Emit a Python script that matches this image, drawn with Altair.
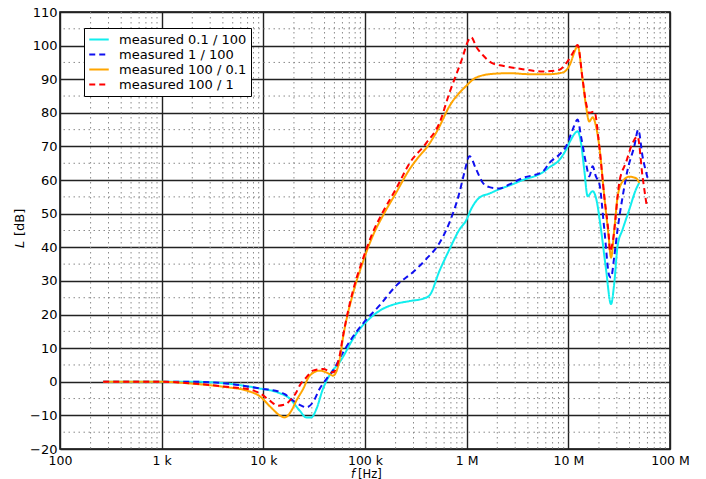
import altair as alt
import pandas as pd

# ---- measured transfer curves: frequency [Hz] and level L [dB] ----
series_names = [
    "measured 0.1 / 100",
    "measured 1 / 100",
    "measured 100 / 0.1",
    "measured 100 / 1",
]
series_colors = ["#11eeee", "#1010f0", "#ffa500", "#ff0000"]
series_dash = [[1, 0], [6, 4], [1, 0], [6, 4]]

cyan_f = [266, 1000, 2040, 4340, 9220, 13940, 18170, 22790, 26500, 29650, 33270,
          38580, 46650, 56230, 76040, 82090, 110900, 149900, 202900, 274200, 370800,
          431200, 540400, 677800, 849700, 988500, 1108000, 1336000, 1674000, 2099000,
          2632000, 3557000, 5595000, 6507000, 8164000, 9489000, 10600000, 12330000,
          13330000, 14350000, 15480000, 17340000, 18710000, 20960000, 23490000,
          26290000, 28330000, 30500000, 34180000, 39730000, 46220000, 49800000]
cyan_L = [0, 0, 0, -0.5, -2.0, -3.2, -5.0, -8.6, -10.6, -10.6, -8.1,
          -2.1, 2.8, 5.8, 12.7, 14.3, 18.8, 21.7, 23.2, 24.0, 24.7,
          25.7, 33.0, 39.4, 45.3, 48.0, 51.4, 54.8, 56.0, 57.3,
          58.4, 60.0, 62.3, 63.8, 66.0, 69.0, 72.0, 74.5,
          71.0, 63.0, 55.2, 56.7, 54.7, 45.3, 33.4,
          23.1, 29.5, 40.4, 45.3, 51.2, 57.2, 59.2]

blue_f = [266, 1000, 2040, 4340, 9220, 14500, 16230, 19590, 23660, 26500, 30770,
          35800, 41690, 48420, 60690, 73280, 98400, 139100, 202900, 295700, 400100,
          540400, 677800, 849700, 950800, 1066000, 1240000, 1440000, 1674000, 2099000,
          2632000, 3557000, 5595000, 6507000, 8164000, 9489000, 11030000, 12330000,
          13330000, 14920000, 16080000, 17340000, 18710000, 20170000, 22600000,
          25290000, 26290000, 28330000, 30500000, 34180000, 38230000, 44490000,
          48730000, 53720000, 60130000]
blue_L = [0, 0, 0, -0.5, -2.0, -3.0, -3.7, -5.6, -7.1, -7.6, -6.1,
          -2.1, 0.8, 3.3, 8.7, 12.7, 17.8, 22.7, 28.6, 32.6, 36.5,
          41.3, 47.4, 56.3, 62.3, 67.1, 63.2, 59.2, 57.9, 57.5,
          58.7, 60.6, 62.5, 65.1, 67.6, 70.0, 75.0, 78.0,
          73.0, 65.0, 61.1, 64.1, 61.0, 59.0, 45.3,
          31.5, 31.0, 37.4, 45.3, 55.0, 63.0, 70.0,
          75.0, 67.0, 60.7]

orange_f = [266, 1000, 2040, 4340, 6820, 9220, 12030, 14500, 16230, 18880, 21130,
            24560, 28560, 35800, 44900, 48420, 56230, 60690, 76040, 95300, 119600,
            149900, 202900, 274200, 343800, 400100, 520400, 677800, 988500, 1240000,
            1805000, 2632000, 4139000, 6507000, 8796000, 10230000, 11890000, 12330000,
            13820000, 14920000, 16080000, 17340000, 18710000, 20170000, 22600000,
            24900000, 26290000, 28330000, 30500000, 34180000, 39730000, 46220000,
            49800000]
orange_L = [0, 0, -0.6, -1.6, -2.6, -4.3, -7.8, -10.0, -10.6, -8.6, -5.6,
            -2.2, 1.8, 3.3, 2.3, 1.8, 6.5, 13.0, 26.2, 35.6, 43.5,
            49.4, 56.3, 63.2, 67.2, 69.5, 75.0, 82.0, 88.0, 90.5,
            91.6, 91.8, 91.5, 91.5, 92.0, 94.0, 99.2, 100.0,
            89.8, 82.0, 77.4, 78.7, 76.0, 70.0, 55.0,
            43.3, 36.9, 45.3, 55.0, 59.6, 61.0, 60.6,
            59.2]

red_f = [266, 1000, 2040, 4340, 7350, 9570, 11560, 13940, 16230, 18880, 21130,
         22790, 26500, 30770, 38580, 48420, 56230, 60690, 76040, 95300, 119600,
         149900, 202900, 274200, 400100, 540400, 677800, 916000, 1025000, 1108000,
         1240000, 1440000, 1805000, 2264000, 3557000, 5595000, 8164000, 9489000,
         11030000, 12330000, 13820000, 14920000, 16080000, 18000000, 20170000,
         22600000, 24900000, 25710000, 27250000, 31700000, 36880000, 42840000,
         47960000, 53720000, 58770000]
red_L = [0, 0, -0.5, -1.5, -2.3, -3.7, -5.6, -7.1, -6.8, -5.1, -3.1,
         -1.1, 1.3, 3.3, 3.8, 2.8, 7.7, 13.5, 27.0, 36.5, 44.5,
         50.5, 57.5, 65.0, 71.0, 77.0, 86.0, 96.7, 101.2, 102.5,
         99.7, 97.2, 94.7, 94.0, 93.0, 92.3, 92.8, 94.7,
         97.7, 100.2, 90.0, 83.0, 80.0, 80.4, 70.0,
         55.0, 44.0, 38.8, 41.4, 59.2, 65.2, 71.0,
         73.0, 61.0, 52.7]

# ---- axis ticks ----
x_tick_values = [1e2, 1e3, 1e4, 1e5, 1e6, 1e7, 1e8]
x_tick_labels = ["100", "1 k", "10 k", "100 k", "1 M", "10 M", "100 M"]
y_tick_values = list(range(-20, 111, 10))
x_minor = [k * 10 ** d for d in range(2, 8) for k in range(2, 10)]
y_minor = list(range(-15, 110, 10))

FONT = "DejaVu Sans"
W, H = 610, 437

rows = []
for name, fs, ls in zip(series_names,
                        [cyan_f, blue_f, orange_f, red_f],
                        [cyan_L, blue_L, orange_L, red_L]):
    for i, (f, l) in enumerate(zip(fs, ls)):
        rows.append({"series": name, "freq": f, "L": l, "i": i})
df = pd.DataFrame(rows)

label_expr = ""
for v, t in zip(x_tick_values, x_tick_labels):
    label_expr += f"datum.value == {v:g} ? '{t}' : "
label_expr += "''"

x_scale = alt.Scale(type="log", domain=[1e2, 1e8])
y_scale = alt.Scale(domain=[-20, 110])

x_axis = alt.Axis(values=x_tick_values, labelExpr=label_expr, title=None,
                  grid=True, gridColor="#222222", gridWidth=1.4,
                  ticks=False, labelPadding=5, labelFlush=False,
                  labelOverlap=False, labelFont=FONT, labelFontSize=12.5,
                  labelColor="black", domain=False)
y_axis = alt.Axis(values=y_tick_values, title=None, grid=True,
                  gridColor="#222222", gridWidth=1.4, ticks=False,
                  labelPadding=3, labelFont=FONT, labelFontSize=13,
                  labelColor="black", domain=False, labelFlush=False)

x_enc = alt.X("freq:Q", scale=x_scale, axis=x_axis)
y_enc = alt.Y("L:Q", scale=y_scale, axis=y_axis)

# dotted minor grid
minor_v = alt.Chart(pd.DataFrame({"freq": x_minor})).mark_rule(
    stroke="#8a8a8a", strokeWidth=1, strokeDash=[1.5, 3.5]
).encode(x=x_enc)

minor_h = alt.Chart(pd.DataFrame({"L": y_minor})).mark_rule(
    stroke="#8a8a8a", strokeWidth=1, strokeDash=[1.5, 3.5]
).encode(y=y_enc)

curves = alt.Chart(df).mark_line(strokeWidth=2, interpolate="monotone", clip=True).encode(
    x=x_enc,
    y=y_enc,
    order="i:Q",
    color=alt.Color("series:N", scale=alt.Scale(domain=series_names, range=series_colors),
                    legend=alt.Legend(orient="none", legendX=24, legendY=16, title=None,
                                      strokeColor="black", fillColor="white",
                                      padding=4, symbolType="stroke", symbolSize=380,
                                      symbolStrokeWidth=2, labelFont=FONT,
                                      labelFontSize=13, labelColor="black",
                                      rowPadding=0, clipHeight=15, labelOffset=9,
                                      cornerRadius=0)),
    strokeDash=alt.StrokeDash("series:N",
                              scale=alt.Scale(domain=series_names, range=series_dash),
                              legend=alt.Legend(orient="none", legendX=24, legendY=16,
                                                title=None)),
)

# axis titles with italic quantity symbols
title_df = pd.DataFrame({"t": [0]})
x_title_sym = alt.Chart(title_df).mark_text(
    text="f", font=FONT, fontSize=11.5, fontStyle="italic", align="left",
    baseline="alphabetic", color="black"
).encode(x=alt.value(291), y=alt.value(H + 28.5))
x_title_unit = alt.Chart(title_df).mark_text(
    text="[Hz]", font=FONT, fontSize=11.5, align="left", baseline="alphabetic",
    color="black"
).encode(x=alt.value(298), y=alt.value(H + 28.5))
y_title_sym = alt.Chart(title_df).mark_text(
    text="L", font=FONT, fontSize=13, fontStyle="italic", align="left",
    baseline="middle", angle=270, color="black"
).encode(x=alt.value(-40), y=alt.value(236))
y_title_unit = alt.Chart(title_df).mark_text(
    text="[dB]", font=FONT, fontSize=13, align="left", baseline="middle",
    angle=270, color="black"
).encode(x=alt.value(-40), y=alt.value(224))

chart = alt.layer(
    minor_v, minor_h, curves, x_title_sym, x_title_unit, y_title_sym, y_title_unit
).properties(
    width=W, height=H,
    autosize=alt.AutoSizeParams(type="none"),
    padding={"left": 60, "top": 12, "right": 36, "bottom": 30},
    background="white",
).configure_view(stroke="black", strokeWidth=1.5)

chart.save("out.html", embed_options={"renderer": "svg", "actions": False})
